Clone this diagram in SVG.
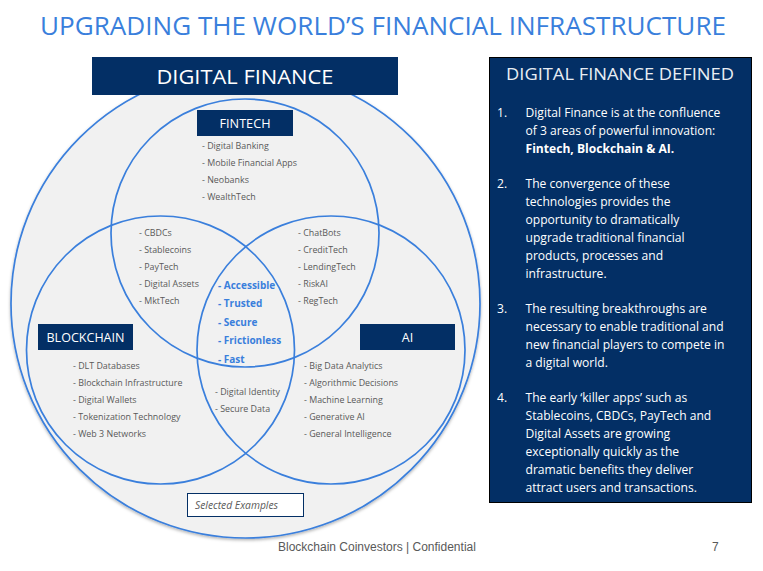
<svg xmlns="http://www.w3.org/2000/svg" width="763" height="571" viewBox="0 0 763 571">
<style>
text{font-family:"Open Sans","Noto Sans","Liberation Sans",sans-serif}
.c{fill:none;stroke:#3a7fdc;stroke-width:1.7}
.n{fill:#032f65}
.l{fill:#fff;text-anchor:middle;font-size:12.5px}
.i{fill:#595959;font-size:8.9px}
.k{fill:#3a7fdc;font-size:10px;font-weight:700}
.p{fill:#fff;font-size:12.1px}
</style>
<defs><filter id="s" x="-5%" y="-5%" width="110%" height="110%"><feDropShadow dx="0" dy="1.5" stdDeviation="1.5" flood-color="#000" flood-opacity=".3"/></filter></defs>
<rect width="763" height="571" fill="#fff"/>
<text id="title" x="383" y="35" text-anchor="middle" font-size="25.5" fill="#3a7fdc" textLength="686" lengthAdjust="spacingAndGlyphs">UPGRADING THE WORLD’S FINANCIAL INFRASTRUCTURE</text>
<g id="connectors">
<circle cx="245.5" cy="303.5" r="234.5" fill="#f1f1f1" stroke="#3a7fdc" stroke-width="1.7" filter="url(#s)"/>
<circle class="c" cx="245" cy="233" r="134"/>
<circle class="c" cx="160.5" cy="350" r="134"/>
<circle class="c" cx="331" cy="350" r="134"/>
</g>
<g id="digital-finance"><rect class="n" x="92" y="57" width="306" height="38"/><text x="245" y="84" fill="#fff" text-anchor="middle" font-size="20.5" textLength="177" lengthAdjust="spacingAndGlyphs">DIGITAL FINANCE</text></g>
<g id="fintech"><rect class="n" x="197" y="110" width="96" height="26"/><text class="l" x="245" y="127.5" textLength="51" lengthAdjust="spacingAndGlyphs">FINTECH</text>
<g class="i"><text x="202" y="149">- Digital Banking</text><text x="202" y="166">- Mobile Financial Apps</text><text x="202" y="183">- Neobanks</text><text x="202" y="200">- WealthTech</text></g></g>
<g id="fintech-blockchain" class="i"><text x="139" y="236">- CBDCs</text><text x="139" y="253">- Stablecoins</text><text x="139" y="270">- PayTech</text><text x="139" y="287">- Digital Assets</text><text x="139" y="304">- MktTech</text></g>
<g id="fintech-ai" class="i"><text x="298" y="236">- ChatBots</text><text x="298" y="253">- CreditTech</text><text x="298" y="270">- LendingTech</text><text x="298" y="287">- RiskAI</text><text x="298" y="304">- RegTech</text></g>
<g id="center" class="k"><text x="218" y="289">- Accessible</text><text x="218" y="307">- Trusted</text><text x="218" y="326">- Secure</text><text x="218" y="344">- Frictionless</text><text x="218" y="363">- Fast</text></g>
<g id="blockchain"><rect class="n" x="38" y="324" width="95" height="26"/><text class="l" x="85.5" y="342" textLength="78" lengthAdjust="spacingAndGlyphs">BLOCKCHAIN</text>
<g class="i"><text x="73" y="369">- DLT Databases</text><text x="73" y="386">- Blockchain Infrastructure</text><text x="73" y="403">- Digital Wallets</text><text x="73" y="420">- Tokenization Technology</text><text x="73" y="437">- Web 3 Networks</text></g></g>
<g id="blockchain-ai" class="i"><text x="215" y="395">- Digital Identity</text><text x="215" y="412">- Secure Data</text></g>
<g id="ai"><rect class="n" x="360" y="324" width="95" height="26"/><text class="l" x="407.5" y="342">AI</text>
<g class="i"><text x="304" y="369">- Big Data Analytics</text><text x="304" y="386">- Algorithmic Decisions</text><text x="304" y="403">- Machine Learning</text><text x="304" y="420">- Generative AI</text><text x="304" y="437">- General Intelligence</text></g></g>
<g id="selected-examples"><rect x="187.5" y="493.5" width="116" height="23" fill="#fff" stroke="#032f65"/><text x="195" y="509" font-size="10.3" font-style="italic" fill="#595959">Selected Examples</text></g>
<g id="definition"><rect class="n" x="489.5" y="57.5" width="262" height="445" stroke="#000"/>
<text x="620" y="80" fill="#e8edf3" text-anchor="middle" font-size="17" textLength="228" lengthAdjust="spacingAndGlyphs">DIGITAL FINANCE DEFINED</text>
<g class="p">
<text x="497" y="117">1.</text><text x="525.5" y="117">Digital Finance is at the confluence</text><text x="525.5" y="135">of 3 areas of powerful innovation:</text><text x="525.5" y="153" font-weight="700">Fintech, Blockchain &amp; AI.</text>
<text x="497" y="188">2.</text><text x="525.5" y="188">The convergence of these</text><text x="525.5" y="206">technologies provides the</text><text x="525.5" y="224">opportunity to dramatically</text><text x="525.5" y="242">upgrade traditional financial</text><text x="525.5" y="260">products, processes and</text><text x="525.5" y="278">infrastructure.</text>
<text x="497" y="313">3.</text><text x="525.5" y="313">The resulting breakthroughs are</text><text x="525.5" y="331">necessary to enable traditional and</text><text x="525.5" y="349">new financial players to compete in</text><text x="525.5" y="367">a digital world.</text>
<text x="497" y="402">4.</text><text x="525.5" y="402">The early ‘killer apps’ such as</text><text x="525.5" y="420">Stablecoins, CBDCs, PayTech and</text><text x="525.5" y="438">Digital Assets are growing</text><text x="525.5" y="456">exceptionally quickly as the</text><text x="525.5" y="474">dramatic benefits they deliver</text><text x="525.5" y="492">attract users and transactions.</text>
</g></g>
<g id="footer" font-size="12" fill="#595959" style="font-family:'Liberation Sans',sans-serif"><text x="278" y="551" style="font-family:'Liberation Sans',sans-serif">Blockchain Coinvestors | Confidential</text><text x="712" y="551" style="font-family:'Liberation Sans',sans-serif">7</text></g>
</svg>
